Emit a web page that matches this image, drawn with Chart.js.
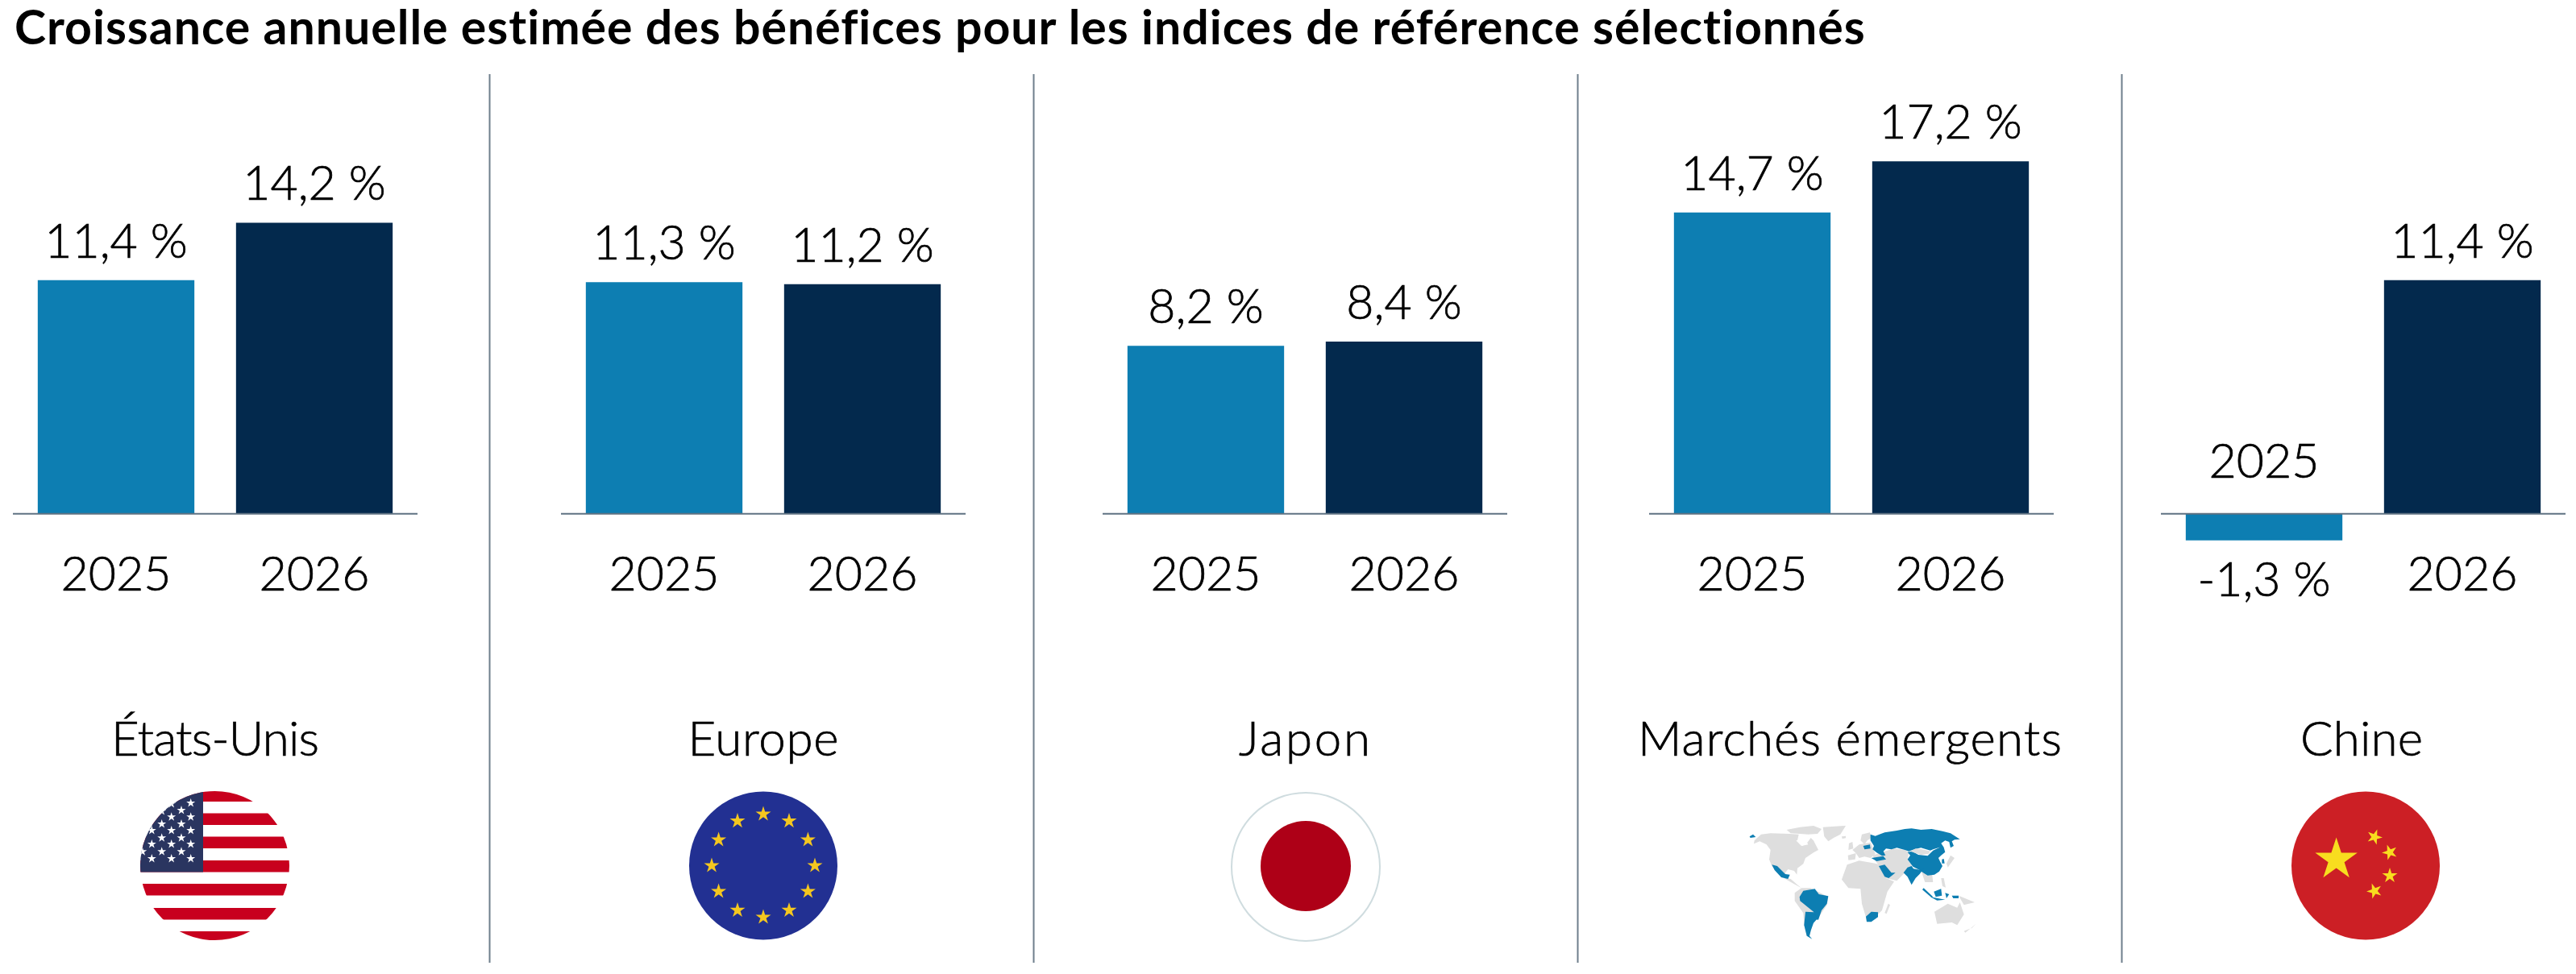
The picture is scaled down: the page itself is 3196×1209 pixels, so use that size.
<!DOCTYPE html>
<html lang="fr">
<head>
<meta charset="utf-8">
<title>Croissance annuelle estimée des bénéfices</title>
<script src="https://cdn.jsdelivr.net/npm/chart.js@4"></script>
<style>
    html, body { margin: 0; padding: 0; background: #fff; }
    #page { position: relative; width: 3196px; height: 1209px; overflow: hidden; }
    #decor { position: absolute; left: 0; top: 0; }
    canvas { position: absolute; }
    text { font-family: Lato, "Noto Sans", sans-serif; fill: #000; }
</style>
</head>
<body>
<div id="page">
<svg id="decor" width="3196" height="1209" xmlns="http://www.w3.org/2000/svg"></svg>
</div>
<script>
const chartTitle = "Croissance annuelle estimée des bénéfices pour les indices de référence sélectionnés";
const regions = ["États-Unis", "Europe", "Japon", "Marchés émergents", "Chine"];
const years = ["2025", "2026"];
const values2025 = [11.4, 11.3, 8.2, 14.7, -1.3];
const values2026 = [14.2, 11.2, 8.4, 17.2, 11.4];

// layout in pixels
const panelCenters = [266.5, 947, 1618.5, 2296.5, 2932];
const regionCenters = [267, 947, 1618.5, 2295, 2930];
const regionWidths = [258, 187, 163, 526, 152];
const dividers = [607.5, 1282.5, 1957.5, 2632.5];
const AXIS_WIDTH = 502;
const CANVAS_TOP = 78;
const CANVAS_HEIGHT = 687;
const COLOR_2025 = "#0d7eb2";
const COLOR_2026 = "#03294d";
const LABEL_FONT = "300 59px Lato, 'Noto Sans', sans-serif";

const formatValue = (v) => v.toFixed(1).replace(".", ",") + " %";

// value labels, year labels and the zero line
const barLabels = {
    id: "barLabels",
    afterDatasetsDraw(chart) {
        const ctx = chart.ctx;
        const zero = chart.scales.y.getPixelForValue(0);
        ctx.save();
        ctx.strokeStyle = "#5f7282";
        ctx.lineWidth = 2;
        ctx.beginPath();
        ctx.moveTo(0, zero);
        ctx.lineTo(chart.width, zero);
        ctx.stroke();

        ctx.font = LABEL_FONT;
        ctx.fillStyle = "#000";
        ctx.strokeStyle = "#000";
        ctx.lineWidth = 0.7;
        ctx.textAlign = "center";
        ctx.textBaseline = "alphabetic";
        const data = chart.data.datasets[0].data;
        const put = (text, x, y) => {
            ctx.fillText(text, x, y);
            ctx.strokeText(text, x, y);
        };
        chart.getDatasetMeta(0).data.forEach((bar, i) => {
            const above = data[i] >= 0;
            put(formatValue(data[i]), bar.x, above ? bar.y - 28 : bar.y + 69);
            put(chart.data.labels[i], bar.x, above ? zero + 95 : zero - 45);
        });
        ctx.restore();
    },
};

const page = document.getElementById("page");
regions.forEach((region, i) => {
    const canvas = document.createElement("canvas");
    canvas.style.left = (panelCenters[i] - AXIS_WIDTH / 2) + "px";
    canvas.style.top = CANVAS_TOP + "px";
    canvas.width = AXIS_WIDTH;
    canvas.height = CANVAS_HEIGHT;
    canvas.setAttribute("aria-label", region);
    page.appendChild(canvas);

    new Chart(canvas, {
        type: "bar",
        data: {
            labels: years,
            datasets: [{
                label: region,
                data: [values2025[i], values2026[i]],
                backgroundColor: [COLOR_2025, COLOR_2026],
                barPercentage: 0.79,
                categoryPercentage: 1,
            }],
        },
        options: {
            responsive: false,
            animation: false,
            layout: { padding: { left: 5, right: 5, top: 0, bottom: 0 } },
            plugins: { legend: { display: false }, tooltip: { enabled: false } },
            scales: {
                x: { display: false },
                y: { display: false, min: -5, max: 22 },
            },
        },
        plugins: [barLabels],
    });
});

// everything around the charts: title, dividers, region names, flags, map
const svg = document.getElementById("decor");
const NS = "http://www.w3.org/2000/svg";

function add(parent, tag, attrs, content) {
    const el = document.createElementNS(NS, tag);
    Object.keys(attrs).forEach((k) => el.setAttribute(k, attrs[k]));
    if (content !== undefined) el.textContent = content;
    parent.appendChild(el);
    return el;
}

function starPoints(cx, cy, r, rot) {
    const pts = [];
    for (let k = 0; k < 10; k++) {
        const rad = k % 2 ? r * 0.382 : r;
        const a = -Math.PI / 2 + (rot || 0) + k * Math.PI / 5;
        pts.push((cx + rad * Math.cos(a)).toFixed(1) + "," + (cy + rad * Math.sin(a)).toFixed(1));
    }
    return pts.join(" ");
}

add(svg, "text", { x: 18, y: 55, "font-size": 59, "font-weight": 700, "letter-spacing": 0.98 }, chartTitle);

dividers.forEach((x) => {
    add(svg, "line", { x1: x, x2: x, y1: 92, y2: 1195, stroke: "#6f7f8c", "stroke-width": 2 });
});

regions.forEach((region, i) => {
    add(svg, "text", {
        x: regionCenters[i], y: 938, "font-size": 60, "font-weight": 300, "text-anchor": "middle",
        stroke: "#000", "stroke-width": 0.7,
        textLength: regionWidths[i], lengthAdjust: "spacing",
    }, region);
});

// United States
const defs = add(svg, "defs", {});
add(add(defs, "clipPath", { id: "usClip" }), "circle", { cx: 266.5, cy: 1074.5, r: 92.5 });
const us = add(svg, "g", { "clip-path": "url(#usClip)" });
add(us, "rect", { x: 174, y: 982, width: 185, height: 185, fill: "#fff" });
[980.5, 1009.5, 1038.5, 1068, 1097, 1127, 1156].forEach((y) => {
    add(us, "rect", { x: 174, y: y, width: 185, height: 14.5, fill: "#c8001e" });
});
add(us, "rect", { x: 174, y: 980, width: 78, height: 102.5, fill: "#2a3560" });
const usStars = [[215,65],[143,68],[180,92],[107,95],[143,117],[215,117],[107,143],[180,143],[70,167],[143,167],[215,167],
    [107,195],[180,195],[70,218],[143,218],[215,218],[35,246],[107,246],[180,246],[70,272],[143,272],[215,272]];
usStars.forEach(([x, y]) => {
    add(us, "polygon", { points: starPoints(165 + x / 3, 975 + y / 3, 5.8), fill: "#fff" });
});

// Europe
add(svg, "circle", { cx: 947, cy: 1074.5, r: 92, fill: "#223092" });
for (let k = 0; k < 12; k++) {
    const a = k * Math.PI / 6;
    add(svg, "polygon", { points: starPoints(947 + 64 * Math.sin(a), 1074.5 - 64 * Math.cos(a), 10), fill: "#f5c71f" });
}

// Japan
add(svg, "circle", { cx: 1620, cy: 1076, r: 92, fill: "#fff", stroke: "#cfdcdf", "stroke-width": 2 });
add(svg, "circle", { cx: 1620, cy: 1075, r: 56, fill: "#ae0017" });

// China
add(svg, "circle", { cx: 2935, cy: 1074.5, r: 92, fill: "#cc1f25" });
add(svg, "polygon", { points: starPoints(2898.6, 1067, 27.5), fill: "#f8dd1f" });
[[2946, 1039, 0.35], [2965, 1058, -0.35], [2965, 1087, 0], [2946, 1106, -0.35]].forEach(([x, y, rot]) => {
    add(svg, "polygon", { points: starPoints(x, y, 10, rot), fill: "#f8dd1f" });
});

// Emerging markets map, hand traced in a 960x480 box
const mapGray = [
    "80,85 105,62 140,58 210,60 245,62 240,85 258,105 275,95 290,75 300,85 318,120 300,130 270,150 262,172 240,188 238,212 228,198 205,192 195,205 200,225 215,228 240,250 255,262 225,245 195,228 165,205 145,180 135,155 140,120 125,100 100,88 78,97",
    "200,45 250,35 300,30 330,42 315,60 280,62 250,60 215,58",
    "335,35 420,30 400,62 375,75 355,88 340,70",
    "405,70 420,68 420,76 407,78",
    "230,280 255,262 290,262 310,272 355,295 350,325 320,370 300,385 285,440 275,440 265,400 262,355 230,310",
    "405,230 425,175 470,160 530,170 545,175 570,225 600,238 575,275 555,345 530,370 498,380 480,320 475,265 430,262",
    "578,320 585,325 572,358 565,355",
    "480,62 510,55 515,75 500,85 490,100 475,85",
    "445,120 470,100 512,92 522,115 530,135 512,150 490,145 470,150 458,132",
    "428,140 458,132 455,155 430,158",
    "432,95 445,90 448,115 430,120",
    "520,140 565,125 600,115 640,120 655,130 650,155 670,185 640,205 610,235 570,225 545,180 530,160",
    "700,195 740,195 745,240 715,240",
    "795,170 810,140 825,150 800,185",
    "775,225 785,225 792,260 780,255",
    "840,290 900,315 860,325",
    "750,350 800,320 835,335 845,315 860,360 835,400 815,390 760,395",
    "890,410 905,395 865,428 860,422",
];
const mapWhite = ["235,85 270,80 280,100 255,105"];
const mapBlue = [
    "512,62 530,68 545,62 565,55 610,48 640,42 665,40 700,45 740,42 780,50 810,58 845,80 825,82 815,88 822,105 810,112 805,90 790,85 775,95 785,110 790,128 772,130 770,110 745,118 735,122 700,112 675,118 655,125 640,120 610,112 590,118 570,115 560,125 568,140 555,142 535,130 520,118 525,105 512,85",
    "650,128 668,125 690,138 725,142 745,122 770,110 790,128 775,140 765,150 772,165 780,180 768,200 750,212 725,215 708,205 695,195 670,182 650,155 660,140",
    "635,205 650,185 665,180 672,190 700,195 710,190 695,210 680,225 665,250 650,220",
    "543,180 565,175 590,205 605,205 580,225 565,220",
    "515,150 560,143 570,155 535,162",
    "485,105 510,100 512,115 490,118",
    "145,175 165,180 195,210 212,212 205,228 180,222 155,195",
    "62,70 75,62 85,72 65,75",
    "778,155 785,153 788,170 778,170",
    "248,295 262,272 305,265 320,285 355,292 350,320 330,345 318,380 305,378 300,350 275,330 250,310",
    "270,350 300,352 315,375 300,392 290,420 285,440 295,452 275,440 265,400",
    "495,368 515,350 540,352 540,370 515,388 498,388",
    "710,262 745,295 740,298 705,268",
    "735,295 790,305 760,308",
    "748,275 775,265 778,290 755,295",
    "790,280 805,285 795,300",
    "815,290 840,290 840,300 820,300",
];
const mapHoles = ["660,125 680,115 705,118 735,125 728,135 700,138 680,132"];
const map = add(svg, "g", { transform: "translate(2150 1015) scale(0.3333)" });
mapGray.forEach((p) => add(map, "polygon", { points: p, fill: "#dedede" }));
mapWhite.forEach((p) => add(map, "polygon", { points: p, fill: "#fff" }));
mapBlue.forEach((p) => add(map, "polygon", { points: p, fill: COLOR_2025 }));
mapHoles.forEach((p) => add(map, "polygon", { points: p, fill: "#dedede" }));
</script>
</body>
</html>
